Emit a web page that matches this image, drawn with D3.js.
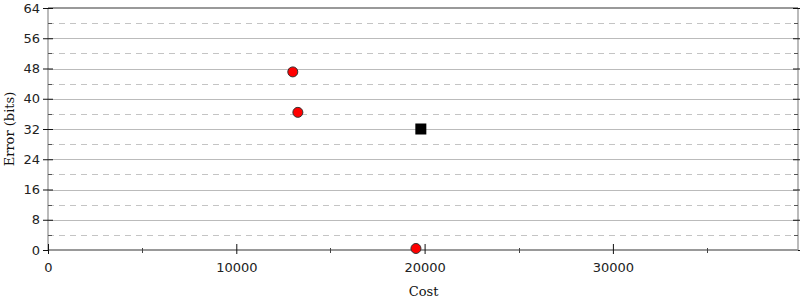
<!DOCTYPE html>
<html>
<head>
<meta charset="utf-8">
<script src="https://cdn.jsdelivr.net/npm/d3@7"></script>
<style>
  body { margin: 0; background: #fff; }
  svg { display: block; }
  .tick text { font-family: "DejaVu Sans", sans-serif; font-size: 13px; fill: #222; }
  .titulo { font-family: "DejaVu Serif", serif; font-size: 13px; fill: #111; }
</style>
</head>
<body>
<div id="chart"></div>
<script>
// dados
const pontosCusto = [13000, 13270, 19540];
const pontosErro = [47.1, 36.4, 0.4];
const quadradoCusto = [19800];
const quadradoErro = [32];
const ticksX = [0, 10000, 20000, 30000];
const ticksXMenores = [5000, 15000, 25000, 35000];
const ticksY = [0, 8, 16, 24, 32, 40, 48, 56, 64];
const ticksYMenores = [4, 12, 20, 28, 36, 44, 52, 60];

const W = 800, H = 300;
const margin = { top: 8, right: 2, bottom: 50, left: 48 };
const width = W - margin.left - margin.right;
const height = H - margin.top - margin.bottom;

const svg = d3.select('#chart').append('svg')
  .attr('width', W).attr('height', H);
const g = svg.append('g').attr('transform', `translate(${margin.left},${margin.top})`);

const x = d3.scaleLinear().domain([0, 39830]).range([0, width]);
const y = d3.scaleLinear().domain([0, 64]).range([height, 0]);

// grade
g.selectAll('.grade').data(ticksY.slice(1, -1)).enter().append('line')
  .attr('x1', 0).attr('x2', width)
  .attr('y1', d => Math.round(y(d)) + 0.5).attr('y2', d => Math.round(y(d)) + 0.5)
  .attr('stroke', '#bbb').attr('stroke-width', 1);
g.selectAll('.gradeMenor').data(ticksYMenores).enter().append('line')
  .attr('x1', 0).attr('x2', width)
  .attr('y1', d => Math.round(y(d)) + 0.5).attr('y2', d => Math.round(y(d)) + 0.5)
  .attr('stroke', '#c4c4c4').attr('stroke-width', 1).attr('stroke-dasharray', '6,5');

// bordas
g.append('line').attr('x1', 0).attr('x2', 0).attr('y1', 0).attr('y2', height)
  .attr('stroke', '#bbb').attr('stroke-width', 2);
g.append('line').attr('x1', width).attr('x2', width).attr('y1', 0).attr('y2', height)
  .attr('stroke', '#bbb').attr('stroke-width', 2);
g.append('line').attr('x1', 0).attr('x2', width).attr('y1', 0).attr('y2', 0)
  .attr('stroke', '#999').attr('stroke-width', 2);

// eixo Y esquerdo
const eixoY = g.append('g')
  .call(d3.axisLeft(y).tickValues(ticksY).tickSize(5).tickPadding(3));
eixoY.select('.domain').remove();
eixoY.selectAll('.tick line').attr('x2', 5).attr('x1', -5).attr('stroke', '#111');
g.selectAll('.menorE').data(ticksYMenores).enter().append('line')
  .attr('x1', 0).attr('x2', 4)
  .attr('y1', d => Math.round(y(d)) + 0.5).attr('y2', d => Math.round(y(d)) + 0.5)
  .attr('stroke', '#555');

// eixo Y direito
const eixoYD = g.append('g').attr('transform', `translate(${width},0)`)
  .call(d3.axisRight(y).tickValues(ticksY).tickSize(5).tickFormat(''));
eixoYD.select('.domain').remove();
eixoYD.selectAll('.tick line').attr('x1', -5).attr('x2', 5).attr('stroke', '#111');
g.selectAll('.menorD').data(ticksYMenores).enter().append('line')
  .attr('x1', width - 4).attr('x2', width)
  .attr('y1', d => Math.round(y(d)) + 0.5).attr('y2', d => Math.round(y(d)) + 0.5)
  .attr('stroke', '#555');

// eixo X
g.append('line').attr('x1', 0).attr('x2', width).attr('y1', height).attr('y2', height)
  .attr('stroke', '#999').attr('stroke-width', 2);
const eixoX = g.append('g').attr('transform', `translate(0,${height})`)
  .call(d3.axisBottom(x).tickValues(ticksX).tickSize(5).tickPadding(8).tickFormat(d3.format('d')));
eixoX.select('.domain').remove();
eixoX.selectAll('.tick line').attr('y1', -6).attr('y2', 4).attr('stroke', '#111');
g.selectAll('.menorX').data(ticksXMenores).enter().append('line')
  .attr('x1', d => Math.round(x(d)) + 0.5).attr('x2', d => Math.round(x(d)) + 0.5)
  .attr('y1', height - 2).attr('y2', height + 3)
  .attr('stroke', '#444');

// títulos
svg.append('text').attr('class', 'titulo')
  .attr('x', margin.left + x(20000) - 1).attr('y', 296)
  .attr('text-anchor', 'middle').text('Cost');
svg.append('text').attr('class', 'titulo')
  .attr('transform', `translate(14,${margin.top + height / 2}) rotate(-90)`)
  .attr('text-anchor', 'middle').text('Error (bits)');

// pontos
const dadosPontos = pontosCusto.map((c, i) => ({ c, e: pontosErro[i] }));
g.selectAll('.ponto').data(dadosPontos).enter().append('circle')
  .attr('cx', d => x(d.c)).attr('cy', d => y(d.e)).attr('r', 5)
  .attr('fill', '#f00').attr('stroke', '#333').attr('stroke-width', 1);

const dadosQuadrado = quadradoCusto.map((c, i) => ({ c, e: quadradoErro[i] }));
g.selectAll('.quadrado').data(dadosQuadrado).enter().append('rect')
  .attr('x', d => x(d.c) - 5.5).attr('y', d => y(d.e) - 5.5)
  .attr('width', 11).attr('height', 11).attr('fill', '#000');
</script>
</body>
</html>
